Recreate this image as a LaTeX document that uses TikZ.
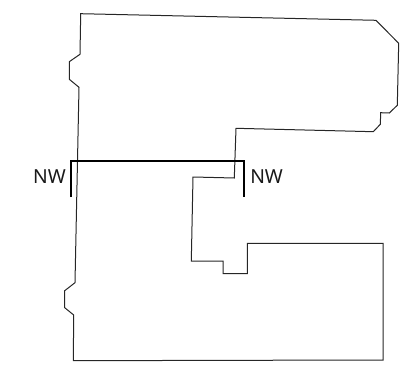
\documentclass[tikz,border=0pt]{standalone}
\usepackage{fontspec}
\setsansfont{Noto Sans}
\usepackage{tikz}

\tikzset{
    outline/.style={draw=black!85, line width=0.75pt, line join=miter},
    cutline/.style={draw=black, line width=1.9pt, line join=miter},
    cutlabel/.style={font=\sffamily\fontsize{14.5}{14.5}\selectfont, text=black!90, inner sep=0pt}
}

\begin{document}
\begin{tikzpicture}[x=0.75pt,y=-0.75pt]

        \useasboundingbox (0,0) rectangle (415,382);

        % Plan outline
        \draw[outline] (80.7,13.7) -- (376,20.3) -- (398.7,43.3) -- (397.3,105.3)
            -- (389.3,113) -- (380.7,112.7) -- (380.3,124.3) -- (373.3,131.7)
            -- (236,128.3) -- (234.3,178) -- (193,177) -- (191.3,261)
            -- (223,261) -- (223,273.7) -- (247.3,273.7) -- (247.3,243.3)
            -- (383,243.3) -- (383,360) -- (73.3,360.7) -- (73.7,315)
            -- (64.7,307.7) -- (64.7,290.7) -- (75,282.7) -- (79,87.3)
            -- (69.3,79.3) -- (69.3,61.7) -- (80,54.3) -- cycle;

        % Section line
        \draw[cutline] (71,197) -- (71,161) -- (244,161) -- (244,197);

        \node[cutlabel, anchor=east] (nwleft) at (66,177) {NW};
        \node[cutlabel, anchor=west] (nwright) at (250,177) {NW};

    \end{tikzpicture}
\end{document}
